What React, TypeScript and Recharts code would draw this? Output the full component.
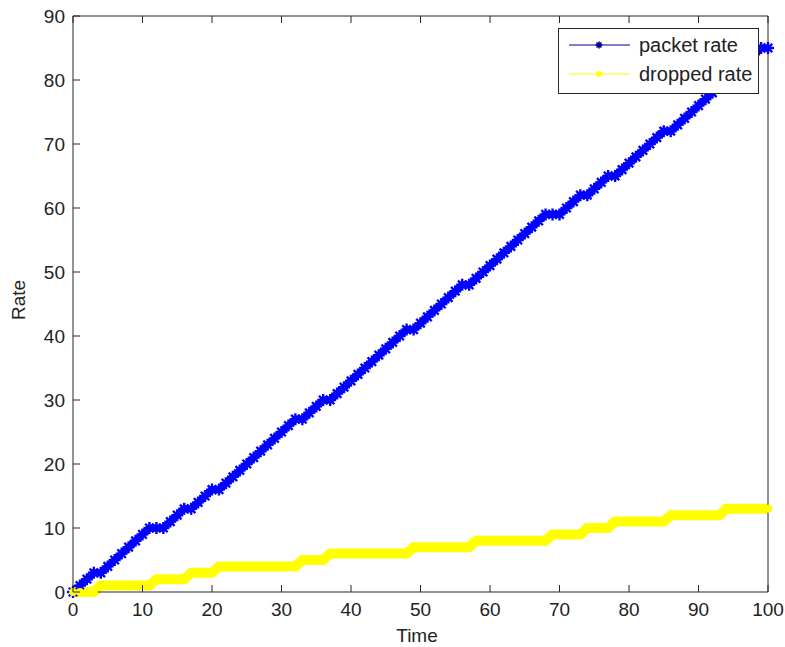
import React from 'react';
import { LineChart, Line, XAxis, YAxis, Legend } from 'recharts';

const time = [
  0, 1, 2, 3, 4, 5, 6, 7, 8, 9, 10, 11, 12, 13, 14, 15, 16, 17, 18, 19, 20,
  21, 22, 23, 24, 25, 26, 27, 28, 29, 30, 31, 32, 33, 34, 35, 36, 37, 38, 39, 40,
  41, 42, 43, 44, 45, 46, 47, 48, 49, 50, 51, 52, 53, 54, 55, 56, 57, 58, 59, 60,
  61, 62, 63, 64, 65, 66, 67, 68, 69, 70, 71, 72, 73, 74, 75, 76, 77, 78, 79, 80,
  81, 82, 83, 84, 85, 86, 87, 88, 89, 90, 91, 92, 93, 94, 95, 96, 97, 98, 99, 100,
];

const packetRate = [
  0, 1, 2, 3, 3, 4, 5, 6, 7, 8, 9, 10, 10, 10, 11, 12, 13, 13, 14, 15, 16,
  16, 17, 18, 19, 20, 21, 22, 23, 24, 25, 26, 27, 27, 28, 29, 30, 30, 31, 32, 33,
  34, 35, 36, 37, 38, 39, 40, 41, 41, 42, 43, 44, 45, 46, 47, 48, 48, 49, 50, 51,
  52, 53, 54, 55, 56, 57, 58, 59, 59, 59, 60, 61, 62, 62, 63, 64, 65, 65, 66, 67,
  68, 69, 70, 71, 72, 72, 73, 74, 75, 76, 77, 78, 79, 80, 81, 82, 83, 84, 85, 85,
];

const droppedRate = [
  0, 0, 0, 0, 1, 1, 1, 1, 1, 1, 1, 1, 2, 2, 2, 2, 2, 3, 3, 3, 3,
  4, 4, 4, 4, 4, 4, 4, 4, 4, 4, 4, 4, 5, 5, 5, 5, 6, 6, 6, 6,
  6, 6, 6, 6, 6, 6, 6, 6, 7, 7, 7, 7, 7, 7, 7, 7, 7, 8, 8, 8,
  8, 8, 8, 8, 8, 8, 8, 8, 9, 9, 9, 9, 9, 10, 10, 10, 10, 11, 11, 11,
  11, 11, 11, 11, 11, 12, 12, 12, 12, 12, 12, 12, 12, 13, 13, 13, 13, 13, 13, 13,
];

const xTicks = [0, 10, 20, 30, 40, 50, 60, 70, 80, 90, 100];
const yTicks = [0, 10, 20, 30, 40, 50, 60, 70, 80, 90];
const seriesNames = ['packet rate', 'dropped rate'];

const data = time.map((t, i) => ({ t, packet: packetRate[i], dropped: droppedRate[i] }));

const FONT = '"Liberation Sans", Arial, Helvetica, sans-serif';
const AX = '#262626';
const TXT = '#222222';
const BLUE = '#0000ff';
const YELLOW = '#ffff00';
const TL = 7;

const BottomTick = (props: any) => {
  const { x, y, payload } = props;
  return (
    <g>
      <line x1={x} y1={y} x2={x} y2={y - TL} stroke={AX} strokeWidth={1} />
      <text x={x} y={y + 24} textAnchor="middle" fontSize={19} fill={TXT} fontFamily={FONT}>
        {payload.value}
      </text>
    </g>
  );
};

const TopTick = (props: any) => {
  const { x, y } = props;
  return <line x1={x} y1={y} x2={x} y2={y + TL} stroke={AX} strokeWidth={1} />;
};

const LeftTick = (props: any) => {
  const { x, y, payload } = props;
  return (
    <g>
      <line x1={x} y1={y} x2={x + TL} y2={y} stroke={AX} strokeWidth={1} />
      <text x={x - 8} y={y + 7} textAnchor="end" fontSize={19} fill={TXT} fontFamily={FONT}>
        {payload.value}
      </text>
    </g>
  );
};

const RightTick = (props: any) => {
  const { x, y } = props;
  return <line x1={x} y1={y} x2={x - TL} y2={y} stroke={AX} strokeWidth={1} />;
};

const starPath = (cx: number, cy: number, r: number) => {
  const d = r * 0.707;
  return `M${cx - r},${cy}H${cx + r}M${cx},${cy - r}V${cy + r}M${cx - d},${cy - d}L${cx + d},${cy + d}M${cx - d},${cy + d}L${cx + d},${cy - d}`;
};

const StarDot = (props: any) => {
  const { cx, cy, index } = props;
  if (cx == null || cy == null) return <g key={`s${index}`} />;
  return <path key={`s${index}`} d={starPath(cx, cy, 6)} stroke={BLUE} strokeWidth={2.4} fill="none" />;
};

const YellowDot = (props: any) => {
  const { cx, cy, index } = props;
  if (cx == null || cy == null) return <g key={`y${index}`} />;
  return <circle key={`y${index}`} cx={cx} cy={cy} r={4} fill={YELLOW} stroke="none" />;
};

const LegendBox = () => (
  <svg width={201} height={66} style={{ display: 'block' }}>
    <rect x={0.5} y={0.5} width={200} height={65} fill="#ffffff" stroke={AX} strokeWidth={1} />
    <line x1={11} y1={17} x2={72} y2={17} stroke="#00008b" strokeWidth={1.2} />
    <path d={starPath(41, 17, 3.5)} stroke="#00008b" strokeWidth={1.6} fill="none" />
    <text x={81} y={24} fontSize={20} fill={TXT} fontFamily={FONT}>{seriesNames[0]}</text>
    <line x1={11} y1={46} x2={72} y2={46} stroke={YELLOW} strokeWidth={1.2} />
    <circle cx={41} cy={46} r={3} fill={YELLOW} />
    <text x={81} y={53} fontSize={20} fill={TXT} fontFamily={FONT}>{seriesNames[1]}</text>
  </svg>
);

export default function App() {
  return (
    <div style={{ position: 'absolute', left: 0, top: 0, width: 785, height: 647, background: '#fff' }}>
      <LineChart
        width={785}
        height={647}
        data={data}
        margin={{ top: 15, right: 16, bottom: 25, left: 13 }}
      >
        <XAxis
          xAxisId="b"
          dataKey="t"
          type="number"
          domain={[0, 100]}
          ticks={xTicks}
          orientation="bottom"
          height={30}
          tickSize={0}
          tickMargin={0}
          tick={<BottomTick />}
          axisLine={{ stroke: AX, strokeWidth: 1 }}
          tickLine={false}
          interval={0}
        />
        <XAxis
          xAxisId="t"
          dataKey="t"
          type="number"
          domain={[0, 100]}
          ticks={xTicks}
          orientation="top"
          height={1}
          tickSize={0}
          tickMargin={0}
          tick={<TopTick />}
          axisLine={{ stroke: AX, strokeWidth: 1 }}
          tickLine={false}
          interval={0}
        />
        <YAxis
          yAxisId="l"
          type="number"
          domain={[0, 90]}
          ticks={yTicks}
          orientation="left"
          width={60}
          tickSize={0}
          tickMargin={0}
          tick={<LeftTick />}
          axisLine={{ stroke: AX, strokeWidth: 1 }}
          tickLine={false}
          interval={0}
        />
        <YAxis
          yAxisId="r"
          type="number"
          domain={[0, 90]}
          ticks={yTicks}
          orientation="right"
          width={1}
          tickSize={0}
          tickMargin={0}
          tick={<RightTick />}
          axisLine={{ stroke: AX, strokeWidth: 1 }}
          tickLine={false}
          interval={0}
        />
        <Legend
          layout="vertical"
          align="center"
          verticalAlign="middle"
          content={<LegendBox />}
          wrapperStyle={{ position: 'absolute', left: 558, top: 28, width: 201, height: 66 }}
        />
        <Line
          xAxisId="b"
          yAxisId="l"
          dataKey="packet"
          name={seriesNames[0]}
          stroke={BLUE}
          strokeWidth={7}
          dot={<StarDot />}
          isAnimationActive={false}
          type="linear"
        />
        <Line
          xAxisId="b"
          yAxisId="l"
          dataKey="dropped"
          name={seriesNames[1]}
          stroke={YELLOW}
          strokeWidth={10}
          dot={<YellowDot />}
          isAnimationActive={false}
          type="linear"
        />
        <text x={18} y={300} transform="rotate(-90 18 300)" textAnchor="middle" dominantBaseline="central" fontSize={19} fill={TXT} fontFamily={FONT}>Rate</text>
        <text x={417} y={642} textAnchor="middle" fontSize={19} fill={TXT} fontFamily={FONT}>Time</text>
      </LineChart>
    </div>
  );
}
